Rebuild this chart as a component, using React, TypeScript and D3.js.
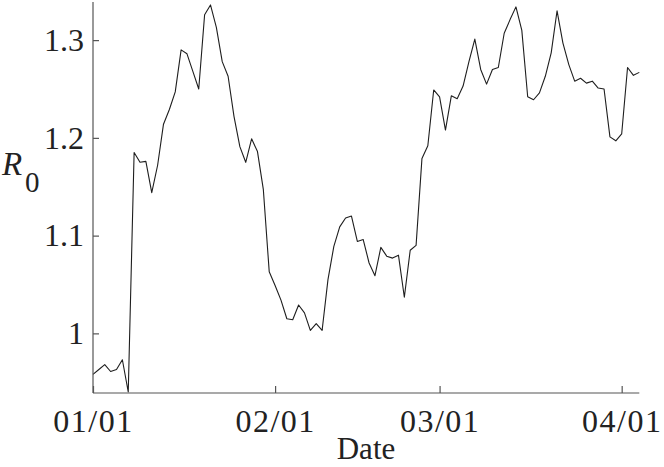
import * as d3 from 'd3';
import React, { useEffect, useRef } from 'react';

// daily R0 estimates, 2021-01-01 .. 2021-04-04
const startDay = new Date(2021, 0, 1);
const endDay = new Date(2021, 3, 4);
const r0Values = [
  0.958, 0.963, 0.968, 0.961, 0.963, 0.973, 0.940, 1.185, 1.175, 1.176,
  1.144, 1.172, 1.214, 1.229, 1.247, 1.290, 1.286, 1.268, 1.250, 1.326,
  1.336, 1.313, 1.278, 1.263, 1.222, 1.191, 1.175, 1.199, 1.186, 1.147,
  1.063, 1.049, 1.034, 1.015, 1.014, 1.029, 1.021, 1.003, 1.010, 1.003,
  1.055, 1.089, 1.109, 1.118, 1.120, 1.094, 1.096, 1.072, 1.059, 1.088,
  1.079, 1.077, 1.080, 1.037, 1.085, 1.090, 1.179, 1.192, 1.249, 1.242,
  1.208, 1.243, 1.240, 1.253, 1.278, 1.301, 1.270, 1.255, 1.270, 1.272,
  1.307, 1.321, 1.334, 1.310, 1.242, 1.239, 1.246, 1.263, 1.287, 1.330,
  1.297, 1.275, 1.258, 1.261, 1.256, 1.258, 1.251, 1.250, 1.201, 1.197,
  1.204, 1.272, 1.264, 1.267,
];
const yTicks = [1, 1.1, 1.2, 1.3];
const xTicks = [new Date(2021, 0, 1), new Date(2021, 1, 1), new Date(2021, 2, 1), new Date(2021, 3, 1)];

const W = 664;
const H = 467;
const font = '"Liberation Serif", "DejaVu Serif", serif';

const App = () => {
  const svgRef = useRef<SVGSVGElement>(null);

  useEffect(() => {
    const svg = d3.select(svgRef.current);
    svg.selectAll('*').remove();

    const x = d3.scaleTime().domain([startDay, endDay]).range([93, 639.3]);
    const y = d3.scaleLinear().domain([0.939, 1.339]).range([393, 2]);

    const data = r0Values.map((v, i) => ({ date: d3.timeDay.offset(startDay, i), v }));

    // line
    const line = d3.line<{ date: Date; v: number }>()
      .x(d => x(d.date))
      .y(d => y(d.v));

    svg.append('path')
      .datum(data)
      .attr('fill', 'none')
      .attr('stroke', '#1e1e1e')
      .attr('stroke-width', 1.1)
      .attr('stroke-linejoin', 'round')
      .attr('d', line);

    // y axis, ticks pointing inward
    const gy = svg.append('g')
      .attr('transform', 'translate(93,0)')
      .call(d3.axisLeft(y).tickValues(yTicks).tickSizeInner(-6).tickSizeOuter(0).tickPadding(9)
        .tickFormat(d => d3.format('~g')(d as number)));

    // x axis
    const gx = svg.append('g')
      .attr('transform', 'translate(0,393)')
      .call(d3.axisBottom(x).tickValues(xTicks).tickSizeInner(-7).tickSizeOuter(0)
        .tickFormat(d => d3.timeFormat('%m/%d')(d as Date)));

    [gx, gy].forEach(g => {
      g.attr('font-family', font);
      g.select('.domain').attr('stroke', '#555').attr('stroke-width', 1.2);
      g.selectAll('.tick line').attr('stroke', '#555').attr('stroke-width', 1.2);
      g.selectAll('text')
        .attr('fill', '#222')
        .style('font-family', font)
        .style('font-size', '32px');
    });
    gy.select('.domain').attr('d', 'M0,393V2');
    gx.select('.domain').attr('d', 'M93,0H639.3');

    gx.selectAll('text')
      .attr('y', 39)
      .attr('dy', null)
      .attr('letter-spacing', 1.5);

    // axis titles
    svg.append('text')
      .attr('x', 366)
      .attr('y', 459)
      .attr('text-anchor', 'middle')
      .attr('fill', '#222')
      .style('font-family', font)
      .style('font-size', '31px')
      .text('Date');

    const yl = svg.append('text')
      .attr('x', 2)
      .attr('y', 175)
      .attr('fill', '#222')
      .style('font-family', font)
      .style('font-size', '33px');
    yl.append('tspan').style('font-style', 'italic').text('R');
    yl.append('tspan').attr('x', 25).attr('y', 192).style('font-size', '29px').text('0');
  }, []);

  return (
    <svg ref={svgRef} width={W} height={H}
      style={{ position: 'absolute', left: 0, top: 0, background: '#fff' }} />
  );
};

export default App;
